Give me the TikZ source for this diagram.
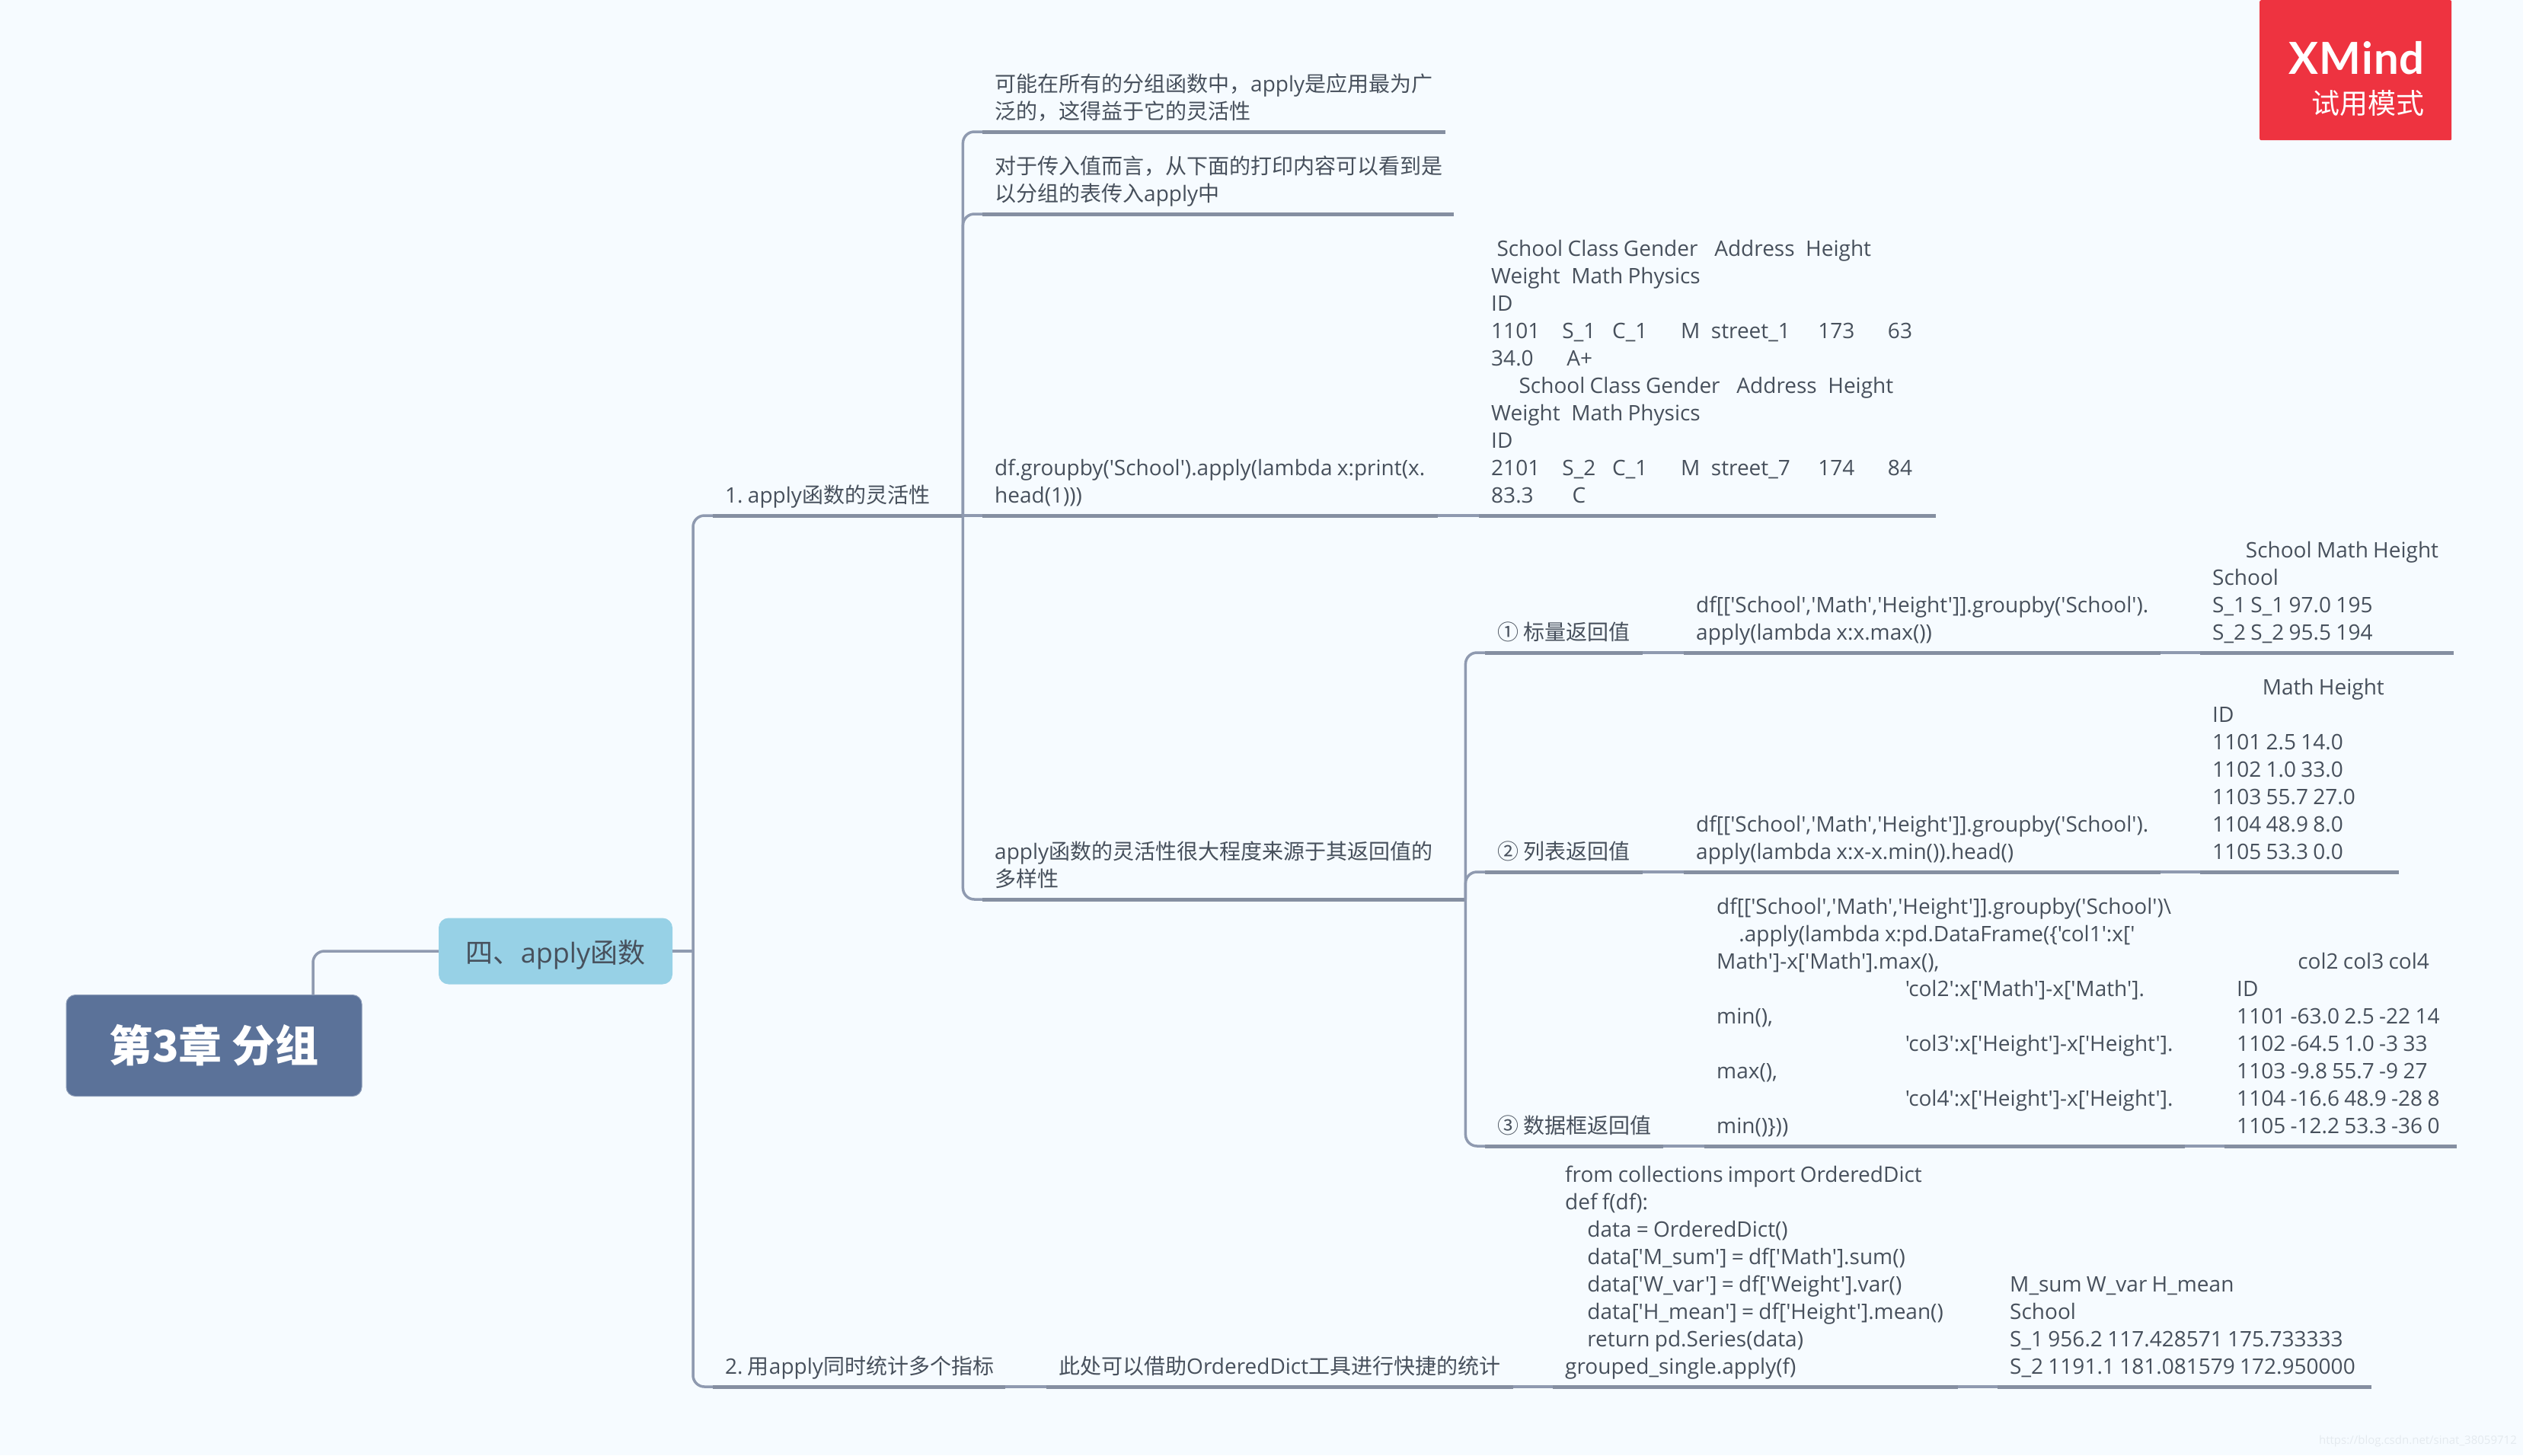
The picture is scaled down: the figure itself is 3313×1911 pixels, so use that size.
\documentclass[tikz,border=0pt]{standalone}
\usepackage{fontspec}
\setmainfont[Ligatures=TeXOff]{Open Sans}
\newfontfamily\cjk{Noto Sans CJK SC}
\newfontfamily\logofont[LetterSpace=2]{Lato}
\newcommand{\zh}[1]{{\cjk #1}}
\newcommand{\spc}[1]{\hspace*{\dimexpr 7.28pt*#1\relax}}
\definecolor{paper}{HTML}{F6FBFF}
\definecolor{ink}{HTML}{47505C}
\definecolor{connc}{HTML}{8F9AB0}
\definecolor{ulinec}{HTML}{858FA1}
\definecolor{rootc}{HTML}{5B7299}
\definecolor{mainc}{HTML}{97D1E6}
\definecolor{logoc}{HTML}{EE3340}
\frenchspacing

\begin{document}
\begin{tikzpicture}[
  x=1pt,y=-1pt,
  root/.style={rectangle,fill=rootc,draw=rootc!70!white,line width=1pt,rounded corners=12pt,
               minimum width=388pt,minimum height=133pt,text=white,
               font=\fontsize{57}{68}\selectfont\cjk\bfseries},
  mainbox/.style={rectangle,fill=mainc,rounded corners=13pt,
               minimum width=307pt,minimum height=87pt,text=ink,text depth=0pt,
               font=\fontsize{36}{44}\selectfont},
  conn/.style={connc,line width=3.5pt,rounded corners=15pt},
  uline/.style={ulinec,line width=5pt},
  item/.style={anchor=south west,inner xsep=0pt,inner ysep=6pt,
               text width=#1,align=left,text=ink,
               font=\fontsize{28}{36}\selectfont,
               execute at begin node={\leftskip=16pt\spaceskip=6.3pt\relax},
               execute at end node={\strut},
               append after command={(\tikzlastnode.south west) edge[uline] (\tikzlastnode.south east)}},
]
  \useasboundingbox[fill=paper] (0,0) rectangle (3313,1911);

  % Central topics
  \node[root] (chap) at (281,1373) {第3章 分组};
  \node[mainbox] (topic) at (729.5,1249) {\zh{四、}apply\zh{函数}};
  \coordinate (chapout) at (411,1306);
  \coordinate (trunk) at (910,1249);

  % First level
  \node[item=328pt] (a1) at (936,677) {1. apply\zh{函数的灵活性}};
  \node[item=384pt] (a2) at (936,1821) {2. \zh{用}apply\zh{同时统计多个指标}};

  % Children of a1
  \node[item=608pt] (b1) at (1290,173) {\zh{可能在所有的分组函数中，}apply\zh{是应用最为广}\\\zh{泛的，这得益于它的灵活性}};
  \node[item=619pt] (b2) at (1290,281) {\zh{对于传入值而言，从下面的打印内容可以看到是}\\\zh{以分组的表传入}apply\zh{中}};
  \node[item=598pt] (b3) at (1290,677) {df.groupby('School').apply(lambda x:print(x.\\head(1)))};
  \node[item=600pt] (b3r) at (1942,677) {\spc{1}School Class Gender\spc{3}Address\spc{2}Height\\
    Weight\spc{2}Math Physics\\ID\\
    1101\spc{4}S\_1\spc{3}C\_1\spc{6}M\spc{2}street\_1\spc{5}173\spc{6}63\\
    34.0\spc{6}A+\\
    \spc{5}School Class Gender\spc{3}Address\spc{2}Height\\
    Weight\spc{2}Math Physics\\ID\\
    2101\spc{4}S\_2\spc{3}C\_1\spc{6}M\spc{2}street\_7\spc{5}174\spc{6}84\\
    83.3\spc{7}C};
  \node[item=634pt] (b4) at (1290,1181) {apply\zh{函数的灵活性很大程度来源于其返回值的}\\\zh{多样性}};

  % Return values
  \node[item=207pt] (c1) at (1950,857) {\zh{① 标量返回值}};
  \node[item=626pt] (c1a) at (2211,857) {df[['School','Math','Height']].groupby('School').\\apply(lambda x:x.max())};
  \node[item=333pt] (c1r) at (2889,857) {\spc{6}School Math Height\\School\\S\_1 S\_1 97.0 195\\S\_2 S\_2 95.5 194};

  \node[item=207pt] (c2) at (1950,1145) {\zh{② 列表返回值}};
  \node[item=626pt] (c2a) at (2211,1145) {df[['School','Math','Height']].groupby('School').\\apply(lambda x:x-x.min()).head()};
  \node[item=261pt] (c2r) at (2889,1145) {\spc{9}Math Height\\ID\\1101 2.5 14.0\\1102 1.0 33.0\\1103 55.7 27.0\\1104 48.9 8.0\\1105 53.3 0.0};

  \node[item=234pt] (c3) at (1950,1505) {\zh{③ 数据框返回值}};
  \node[item=631pt] (c3a) at (2238,1505) {df[['School','Math','Height']].groupby('School')\textbackslash\\
    \spc{4}.apply(lambda x:pd.DataFrame(\{'col1':x['\\
    Math']-x['Math'].max(),\\
    \spc{34}'col2':x['Math']-x['Math'].\\min(),\\
    \spc{34}'col3':x['Height']-x['Height'].\\max(),\\
    \spc{34}'col4':x['Height']-x['Height'].\\min()\}))};
  \node[item=305pt] (c3r) at (2921,1505) {\spc{11}col2 col3 col4\\ID\\1101 -63.0 2.5 -22 14\\1102 -64.5 1.0 -3 33\\1103 -9.8 55.7 -9 27\\1104 -16.6 48.9 -28 8\\1105 -12.2 53.3 -36 0};

  % Children of a2
  \node[item=613pt] (d1) at (1374,1821) {\zh{此处可以借助}OrderedDict\zh{工具进行快捷的统计}};
  \node[item=532pt] (d2) at (2039,1821) {from collections import OrderedDict\\def f(df):\\
    \spc{4}data = OrderedDict()\\
    \spc{4}data['M\_sum'] = df['Math'].sum()\\
    \spc{4}data['W\_var'] = df['Weight'].var()\\
    \spc{4}data['H\_mean'] = df['Height'].mean()\\
    \spc{4}return pd.Series(data)\\
    grouped\_single.apply(f)};
  \node[item=491pt] (d3) at (2623,1821) {M\_sum W\_var H\_mean\\School\\S\_1 956.2 117.428571 175.733333\\S\_2 1191.1 181.081579 172.950000};

  % Connectors
  \draw[conn] (chapout) |- (topic.west);
  \draw[conn] (topic.east) -- (trunk);
  \draw[conn] (trunk) |- (a1.south west);
  \draw[conn] (trunk) |- (a2.south west);
  \draw[conn] (a1.south east) |- (b1.south west);
  \draw[conn] (a1.south east) |- (b2.south west);
  \draw[conn] (a1.south east) -- (b3.south west);
  \draw[conn] (a1.south east) |- (b4.south west);
  \draw[conn] (b3.south east) -- (b3r.south west);
  \draw[conn] (b4.south east) |- (c1.south west);
  \draw[conn] (b4.south east) |- (c2.south west);
  \draw[conn] (b4.south east) |- (c3.south west);
  \draw[conn] (c1.south east) -- (c1a.south west);
  \draw[conn] (c1a.south east) -- (c1r.south west);
  \draw[conn] (c2.south east) -- (c2a.south west);
  \draw[conn] (c2a.south east) -- (c2r.south west);
  \draw[conn] (c3.south east) -- (c3a.south west);
  \draw[conn] (c3a.south east) -- (c3r.south west);
  \draw[conn] (a2.south east) -- (d1.south west);
  \draw[conn] (d1.south east) -- (d2.south west);
  \draw[conn] (d2.south east) -- (d3.south west);

  % Trial badge
  \node[rectangle,fill=logoc,rounded corners=2pt,minimum width=252pt,minimum height=184pt,anchor=north west,inner sep=0pt] (badge) at (2967,0) {};
  \node[anchor=base east,inner sep=0pt,text=white,font=\fontsize{58}{60}\selectfont\logofont\bfseries] (brand) at (3184,97) {XMind};
  \node[anchor=base east,inner sep=0pt,text=white,font=\fontsize{37}{44}\selectfont\cjk] (trial) at (3184,149) {试用模式};

  % Watermark
  \node[anchor=east,inner sep=0pt,text=ink!10!paper,font=\fontsize{15}{18}\selectfont] (mark) at (3305,1893) {https://blog.csdn.net/sinat\_38059712};
\end{tikzpicture}
\end{document}
